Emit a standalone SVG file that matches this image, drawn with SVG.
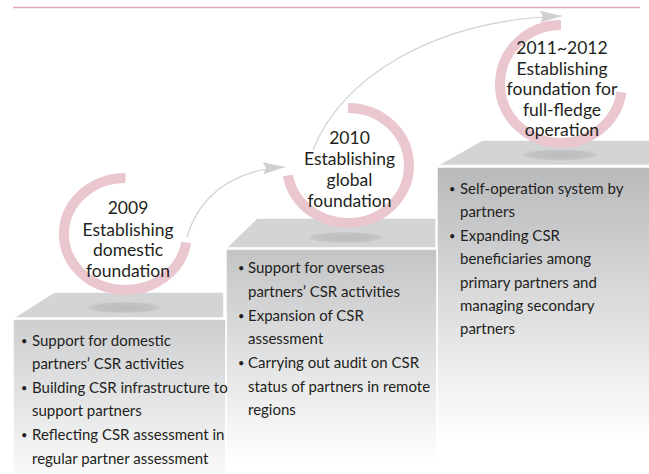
<svg xmlns="http://www.w3.org/2000/svg" width="649" height="474" viewBox="0 0 649 474">
  <style>
    .ring { fill: none; stroke: #eac7ce; stroke-width: 10; stroke-linecap: butt; }
    .title { font-family: Lato, "Open Sans", sans-serif; font-size: 17.5px; fill: #231f20; text-anchor: middle; }
    .item { font-family: Lato, "Open Sans", sans-serif; font-size: 15px; fill: #231f20; }
    .bullet { font-family: Lato, "Open Sans", sans-serif; font-size: 11px; fill: #231f20; }
    .top { fill: #d3d4d6; stroke: #ffffff; stroke-width: 1.5; }
    .shadow { fill: url(#shadowGrad); }
    .conn { fill: none; stroke: #d0d0d0; stroke-width: 1.2; }
    .rule { stroke: #dca6b6; stroke-width: 1.5; }
  </style>
  <defs>
    <linearGradient id="front3" gradientUnits="userSpaceOnUse" x1="0" y1="167" x2="0" y2="440">
      <stop offset="0" stop-color="#b8b9bb"/>
      <stop offset="1" stop-color="#ffffff"/>
    </linearGradient>
    <linearGradient id="front2" gradientUnits="userSpaceOnUse" x1="0" y1="249" x2="0" y2="464">
      <stop offset="0" stop-color="#c3c4c6"/>
      <stop offset="1" stop-color="#ffffff"/>
    </linearGradient>
    <linearGradient id="front1" gradientUnits="userSpaceOnUse" x1="0" y1="319" x2="0" y2="480">
      <stop offset="0" stop-color="#cdced0"/>
      <stop offset="1" stop-color="#fbfbfb"/>
    </linearGradient>
    <radialGradient id="shadowGrad" cx="0.5" cy="0.5" r="0.5">
      <stop offset="0" stop-color="#bcbdbf"/>
      <stop offset="0.8" stop-color="#c1c2c4"/>
      <stop offset="1" stop-color="#cbcccd"/>
    </radialGradient>
    <marker id="arrow" markerUnits="userSpaceOnUse" markerWidth="24" markerHeight="14" refX="22" refY="6" orient="auto">
      <path d="M0,0 L22,6 L0,12 L3,6 Z" fill="#d0d0d0"/>
    </marker>
  </defs>

  <line class="rule" x1="13" y1="7.5" x2="640" y2="7.5"/>

  <!-- Step 3 -->
  <g id="step3">
    <rect x="437" y="167" width="213" height="310" fill="url(#front3)" stroke="#ffffff" stroke-width="1.5"/>
    <polygon class="top" points="482,140 650,140 650,165.5 437,165.5"/>
    <ellipse class="shadow" cx="560" cy="155" rx="37" ry="5.5"/>
    <path class="ring" d="M 561 25 A 61 59 0 1 0 621.4 92.2"/>
    <text class="title" x="562" y="54">2011~2012</text>
    <text class="title" x="562" y="74.5">Establishing</text>
    <text class="title" x="562" y="95">foundation for</text>
    <text class="title" x="562" y="115.5">full-fledge</text>
    <text class="title" x="562" y="135.5">operation</text>
    <text class="bullet" x="449" y="193">•</text>
    <text class="item" x="460" y="194">Self-operation system by</text>
    <text class="item" x="460" y="217">partners</text>
    <text class="bullet" x="449" y="239.5">•</text>
    <text class="item" x="460" y="240.5">Expanding CSR</text>
    <text class="item" x="460" y="264">beneficiaries among</text>
    <text class="item" x="460" y="287.5">primary partners and</text>
    <text class="item" x="460" y="311">managing secondary</text>
    <text class="item" x="460" y="334">partners</text>
  </g>

  <!-- Step 2 -->
  <g id="step2">
    <rect x="226" y="249" width="211" height="230" fill="url(#front2)" stroke="#ffffff" stroke-width="1.5"/>
    <polygon class="top" points="257,218 436,218 436,248 226,248"/>
    <ellipse class="shadow" cx="345.5" cy="237.5" rx="37" ry="5.5"/>
    <path class="ring" d="M 348 108 A 61 57.5 0 1 1 287.9 175.5"/>
    <text class="title" x="349.5" y="144">2010</text>
    <text class="title" x="349.5" y="165">Establishing</text>
    <text class="title" x="349.5" y="186">global</text>
    <text class="title" x="349.5" y="207">foundation</text>
    <text class="bullet" x="238" y="272">•</text>
    <text class="item" x="248" y="273">Support for overseas</text>
    <text class="item" x="248" y="297">partners’ CSR activities</text>
    <text class="bullet" x="238" y="319.5">•</text>
    <text class="item" x="248" y="320.5">Expansion of CSR</text>
    <text class="item" x="248" y="344">assessment</text>
    <text class="bullet" x="238" y="367">•</text>
    <text class="item" x="248" y="368">Carrying out audit on CSR</text>
    <text class="item" x="248" y="391.5">status of partners in remote</text>
    <text class="item" x="248" y="415">regions</text>
  </g>

  <!-- Step 1 -->
  <g id="step1">
    <rect x="13" y="319" width="213" height="160" fill="url(#front1)" stroke="#ffffff" stroke-width="1.5"/>
    <polygon class="top" points="54,292 224,292 224,318 13,318"/>
    <ellipse class="shadow" cx="124" cy="307.5" rx="37" ry="5.5"/>
    <path class="ring" d="M 125.5 178 A 61.5 56 0 1 0 186.2 242.5"/>
    <text class="title" x="128" y="214">2009</text>
    <text class="title" x="128" y="235.5">Establishing</text>
    <text class="title" x="128" y="256">domestic</text>
    <text class="title" x="128" y="277">foundation</text>
    <text class="bullet" x="21" y="344.5">•</text>
    <text class="item" x="32" y="345.5">Support for domestic</text>
    <text class="item" x="32" y="369">partners’ CSR activities</text>
    <text class="bullet" x="21" y="391.5">•</text>
    <text class="item" x="32" y="392.5">Building CSR infrastructure to</text>
    <text class="item" x="32" y="416">support partners</text>
    <text class="bullet" x="21" y="439">•</text>
    <text class="item" x="32" y="440">Reflecting CSR assessment in</text>
    <text class="item" x="32" y="463.5">regular partner assessment</text>
  </g>

  <!-- Connectors -->
  <g id="connectors">
    <path class="conn" d="M 187 237 C 198 200, 228 170, 285 167" marker-end="url(#arrow)"/>
    <path class="conn" d="M 313 150 C 340 80, 430 20, 562 16" marker-end="url(#arrow)"/>
  </g>
</svg>
